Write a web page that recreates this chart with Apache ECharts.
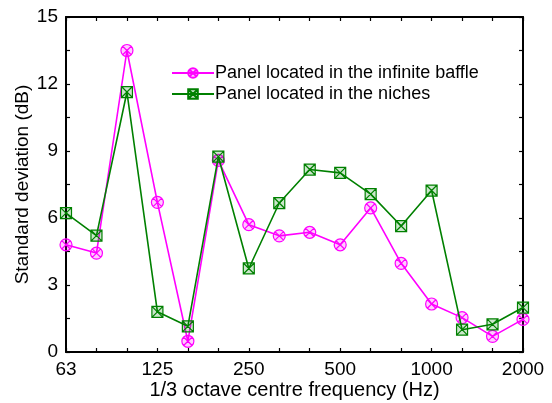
<!DOCTYPE html>
<html>
<head>
<meta charset="utf-8">
<script src="https://cdn.jsdelivr.net/npm/echarts@6/dist/echarts.min.js"></script>
<style>
  html, body { margin: 0; padding: 0; background: #fff; }
  #chart { width: 552px; height: 403px; }
</style>
</head>
<body>
<div id="chart"></div>
<script>
// 1/3 octave band centre frequencies (Hz)
const bands = ['63', '80', '100', '125', '160', '200', '250', '315', '400', '500', '630', '800', '1000', '1250', '1600', '2000'];
// Labelled bands on the frequency axis
const bandLabels = ['63', '125', '250', '500', '1000', '2000'];
// Standard deviation (dB), panel in the infinite baffle
const baffleStd = [4.8, 4.43, 13.5, 6.7, 0.48, 8.58, 5.7, 5.2, 5.36, 4.8, 6.45, 3.97, 2.15, 1.54, 0.7, 1.46];
// Standard deviation (dB), panel in the niches
const nicheStd = [6.22, 5.21, 11.64, 1.8, 1.15, 8.75, 3.74, 6.67, 8.17, 8.02, 7.07, 5.64, 7.23, 1.0, 1.24, 1.99];
// Vertical axis labels
const yTicks = [0, 3, 6, 9, 12, 15];

const baffleName = 'Panel located in the infinite baffle';
const nicheName = 'Panel located in the niches';

// Marker shapes: circle with a cross, square with a cross
const circleX = 'path://M10,0A10,10,0,1,1,9.99,0ZM2.93,2.93L17.07,17.07M17.07,2.93L2.93,17.07';
const squareX = 'path://M0,0L20,0L20,20L0,20ZM0,0L20,20M20,0L0,20';

const font = 'Liberation Sans, Arial, sans-serif';
const chart = echarts.init(document.getElementById('chart'), null, { renderer: 'canvas' });

const catAxisBase = {
  type: 'category',
  data: bands,
  boundaryGap: false,
  axisLine: { onZero: false, lineStyle: { color: '#000', width: 2 } },
  axisTick: { show: true, inside: true, length: 4, alignWithLabel: true, interval: 0, lineStyle: { color: '#000', width: 1.2 } },
  splitLine: { show: false }
};
const valAxisBase = {
  type: 'value',
  min: 0, max: 15, interval: 1.5,
  axisLine: { show: true, onZero: false, lineStyle: { color: '#000', width: 2 } },
  axisTick: { show: true, inside: true, length: 4, lineStyle: { color: '#000', width: 1.2 } },
  splitLine: { show: false }
};

chart.setOption({
  animation: false,
  backgroundColor: '#fff',
  grid: { left: 66, right: 29, top: 17, bottom: 51, containLabel: false, outerBoundsMode: 'none' },
  legend: {
    orient: 'vertical',
    left: 166,
    top: 59,
    itemWidth: 42,
    itemHeight: 12,
    itemGap: 3,
    textStyle: { fontFamily: font, fontSize: 18, color: '#000', padding: [0, 0, 0, -4] },
    data: [baffleName, nicheName]
  },
  xAxis: [
    Object.assign({}, catAxisBase, {
      position: 'bottom',
      name: '1/3 octave centre frequency (Hz)',
      nameLocation: 'middle',
      nameGap: 28,
      nameMoveOverlap: false,
      nameTextStyle: { fontFamily: font, fontSize: 20, color: '#000' },
      axisLabel: {
        interval: 0,
        margin: 8,
        fontFamily: font, fontSize: 19, color: '#000',
        formatter: v => bandLabels.includes(v) ? v : ''
      }
    }),
    Object.assign({}, catAxisBase, { position: 'top', axisLabel: { show: false } })
  ],
  yAxis: [
    Object.assign({}, valAxisBase, {
      position: 'left',
      name: 'Standard deviation (dB)',
      nameLocation: 'middle',
      nameGap: 34,
      nameMoveOverlap: false,
      nameTextStyle: { fontFamily: font, fontSize: 19, color: '#000' },
      axisLabel: {
        margin: 8,
        fontFamily: font, fontSize: 19, color: '#000',
        formatter: v => yTicks.includes(Math.round(v * 100) / 100) ? String(Math.round(v)) : ''
      }
    }),
    Object.assign({}, valAxisBase, { position: 'right', axisLabel: { show: false } })
  ],
  series: [
    {
      name: baffleName,
      type: 'line',
      data: baffleStd,
      symbol: circleX,
      symbolSize: 12,
      lineStyle: { color: '#ff00ff', width: 1.6 },
      itemStyle: { color: 'rgba(255,0,255,0.2)', borderColor: '#ff00ff', borderWidth: 1.2 },
      z: 3
    },
    {
      name: nicheName,
      type: 'line',
      data: nicheStd,
      symbol: squareX,
      symbolSize: 11,
      lineStyle: { color: '#008000', width: 1.6 },
      itemStyle: { color: 'rgba(0,128,0,0.2)', borderColor: '#008000', borderWidth: 1.2 },
      z: 4
    }
  ]
});
</script>
</body>
</html>
